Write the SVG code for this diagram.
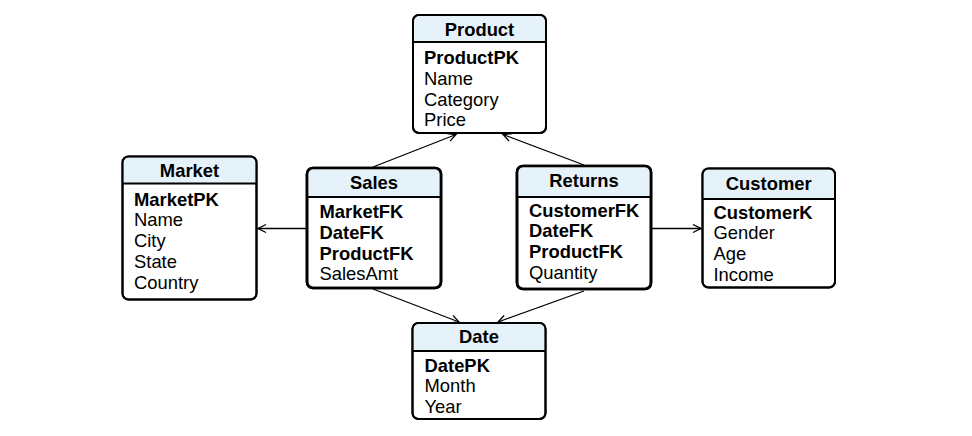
<svg xmlns="http://www.w3.org/2000/svg" width="972" height="436" viewBox="0 0 972 436">
<style>
.box{fill:#fff;stroke:#000;stroke-width:2}
.fact{stroke-width:2.6}
.hdr{fill:#e6f2f9;stroke:none}
.sep{stroke:#000;stroke-width:2}
.t{font-family:"Liberation Sans",Arial,sans-serif;font-size:18.4px;fill:#000}
.title{font-weight:bold;text-anchor:middle}
.b{font-weight:bold}
.conn{stroke:#000;stroke-width:1.3;fill:none;marker-end:url(#arr)}
</style>
<defs>
<marker id="arr" markerUnits="userSpaceOnUse" markerWidth="12" markerHeight="12" refX="9" refY="5" orient="auto">
<path d="M1,1 L9,5 L1,9" fill="none" stroke="#000" stroke-width="1.3"/>
</marker>
</defs>
<rect width="972" height="436" fill="#fff"/>
<g id="connectors">
<line class="conn" x1="373" y1="167" x2="456" y2="134.5"/>
<line class="conn" x1="584" y1="165" x2="503" y2="134.5"/>
<line class="conn" x1="306" y1="228.5" x2="258" y2="228.5"/>
<line class="conn" x1="651" y1="228.5" x2="701" y2="228.5"/>
<line class="conn" x1="373" y1="289" x2="459" y2="322"/>
<line class="conn" x1="584" y1="291" x2="498" y2="322"/>
</g>
<g id="product">
<rect class="box" x="413" y="15" width="133" height="118" rx="6"/>
<path class="hdr" d="M419,16 H540 A5,5 0 0 1 545,21 V42 H414 V21 A5,5 0 0 1 419,16 Z"/>
<line class="sep" x1="413" y1="42" x2="546" y2="42"/>
<rect x="413" y="15" width="133" height="118" rx="6" fill="none" stroke="#000" stroke-width="2"/>
<text class="t title" x="479.5" y="35.5">Product</text>
<text class="t b" x="424" y="63.5">ProductPK</text>
<text class="t" x="424" y="84.5">Name</text>
<text class="t" x="424" y="105.5">Category</text>
<text class="t" x="424" y="125.5">Price</text>
</g>
<g id="market">
<rect class="box" x="122.5" y="156.5" width="134" height="143" rx="6"/>
<path class="hdr" d="M128.5,157.5 H250.5 A5,5 0 0 1 255.5,162.5 V183.5 H123.5 V162.5 A5,5 0 0 1 128.5,157.5 Z"/>
<line class="sep" x1="122.5" y1="183.5" x2="256.5" y2="183.5"/>
<rect x="122.5" y="156.5" width="134" height="143" rx="6" fill="none" stroke="#000" stroke-width="2"/>
<text class="t title" x="189.5" y="177">Market</text>
<text class="t b" x="134" y="205.5">MarketPK</text>
<text class="t" x="134" y="226">Name</text>
<text class="t" x="134" y="246.5">City</text>
<text class="t" x="134" y="267.5">State</text>
<text class="t" x="134" y="288.5">Country</text>
</g>
<g id="sales">
<rect class="box fact" x="307" y="168" width="134" height="120" rx="6"/>
<path class="hdr" d="M313,169.3 H435 A5,5 0 0 1 439.7,174 V197 H308.3 V174 A5,5 0 0 1 313,169.3 Z"/>
<line class="sep" x1="307" y1="197" x2="441" y2="197"/>
<rect x="307" y="168" width="134" height="120" rx="6" fill="none" stroke="#000" stroke-width="2.6"/>
<text class="t title" x="374" y="188.5">Sales</text>
<text class="t b" x="319.5" y="217.5">MarketFK</text>
<text class="t b" x="319.5" y="238.5">DateFK</text>
<text class="t b" x="319.5" y="259.5">ProductFK</text>
<text class="t" x="319.5" y="279.5">SalesAmt</text>
</g>
<g id="returns">
<rect class="box fact" x="517" y="166" width="134" height="123" rx="6"/>
<path class="hdr" d="M523,167.3 H645 A5,5 0 0 1 649.7,172 V197 H518.3 V172 A5,5 0 0 1 523,167.3 Z"/>
<line class="sep" x1="517" y1="197" x2="651" y2="197"/>
<rect x="517" y="166" width="134" height="123" rx="6" fill="none" stroke="#000" stroke-width="2.6"/>
<text class="t title" x="584" y="187">Returns</text>
<text class="t b" x="529" y="216.5">CustomerFK</text>
<text class="t b" x="529" y="236.5">DateFK</text>
<text class="t b" x="529" y="257.5">ProductFK</text>
<text class="t" x="529" y="278.5">Quantity</text>
</g>
<g id="customer">
<rect class="box" x="702.5" y="168.5" width="132.5" height="119" rx="6"/>
<path class="hdr" d="M708.5,169.5 H829 A5,5 0 0 1 834,174.5 V199 H703.5 V174.5 A5,5 0 0 1 708.5,169.5 Z"/>
<line class="sep" x1="702.5" y1="199" x2="835" y2="199"/>
<rect x="702.5" y="168.5" width="132.5" height="119" rx="6" fill="none" stroke="#000" stroke-width="2"/>
<text class="t title" x="768.75" y="189.5">Customer</text>
<text class="t b" x="713.5" y="218.5">CustomerK</text>
<text class="t" x="713.5" y="238.5">Gender</text>
<text class="t" x="713.5" y="259.5">Age</text>
<text class="t" x="713.5" y="280.5">Income</text>
</g>
<g id="date">
<rect class="box" x="412.5" y="323" width="133" height="96" rx="6"/>
<path class="hdr" d="M418.5,324 H539.5 A5,5 0 0 1 544.5,329 V351 H413.5 V329 A5,5 0 0 1 418.5,324 Z"/>
<line class="sep" x1="412.5" y1="351" x2="545.5" y2="351"/>
<rect x="412.5" y="323" width="133" height="96" rx="6" fill="none" stroke="#000" stroke-width="2"/>
<text class="t title" x="479" y="343">Date</text>
<text class="t b" x="424.5" y="371.5">DatePK</text>
<text class="t" x="424.5" y="391.5">Month</text>
<text class="t" x="424.5" y="412.5">Year</text>
</g>
</svg>
